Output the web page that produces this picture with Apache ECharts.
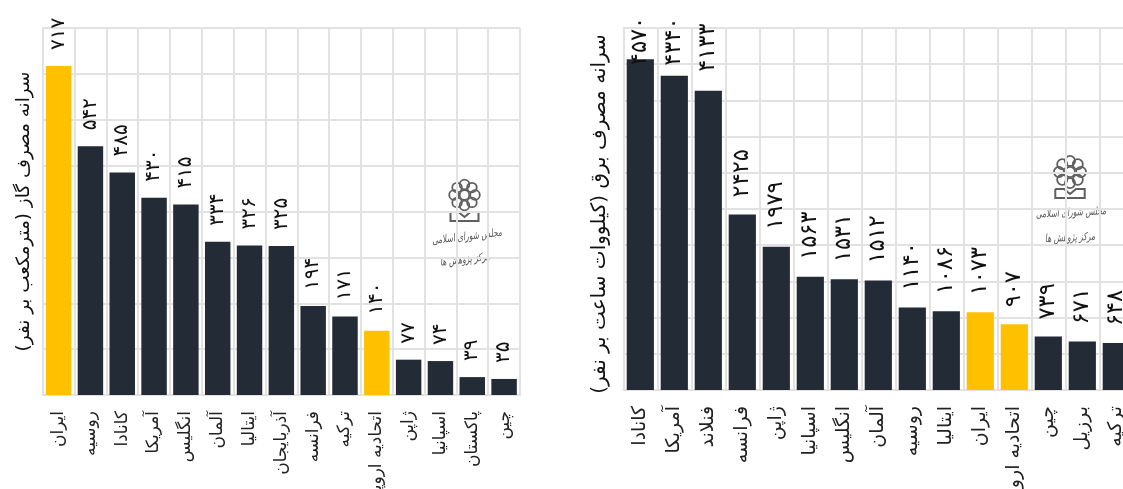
<!DOCTYPE html>
<html dir="rtl">
<head>
<meta charset="utf-8">
<style>html,body{margin:0;padding:0;background:#fff;overflow:hidden;width:1123px;height:489px}#c{width:1140px;height:489px;position:absolute;left:0;top:0}</style>
<script src="https://cdn.jsdelivr.net/npm/echarts@6/dist/echarts.min.js"></script>
</head>
<body>
<div id="c"></div>
<script>
const gasCategories = ['ایران','روسیه','کانادا','آمریکا','انگلیس','آلمان','ایتالیا','آذربایجان','فرانسه','ترکیه','اتحادیه اروپا','ژاپن','اسپانیا','پاکستان','چین'];
const gasValues = [717,542,485,430,415,334,326,325,194,171,140,77,74,39,35];
const gasHighlighted = ['ایران','اتحادیه اروپا'];
const gasTitle = 'سرانه مصرف گاز (مترمکعب بر نفر)';

const powerCategories = ['کانادا','آمریکا','فنلاند','فرانسه','ژاپن','اسپانیا','انگلیس','آلمان','روسیه','ایتالیا','ایران','اتحادیه اروپا','چین','برزیل','ترکیه'];
const powerValues = [4570,4340,4133,2425,1979,1563,1531,1512,1140,1086,1073,907,739,671,648];
const powerHighlighted = ['ایران','اتحادیه اروپا'];
const powerTitle = 'سرانه مصرف برق (کیلووات ساعت بر نفر)';

const logoLine1 = 'مجلس شورای اسلامی';
const logoLine2 = 'مرکز پژوهش ها';

const DARK='#232b36', GOLD='#ffc000', GRID='#e2e2e2', FONT='"DejaVu Sans"';
const fa = v => String(v).replace(/\d/g, d => '۰۱۲۳۴۵۶۷۸۹'[d]);

function xAxis(idx, cats, size){
  return {type:'category', gridIndex:idx, data:cats, boundaryGap:true,
    axisLine:{show:true,lineStyle:{color:GRID,width:2}}, axisTick:{show:false},
    splitLine:{show:true,lineStyle:{color:GRID,width:2}},
    axisLabel:{interval:0, rotate:90, margin:16, fontFamily:FONT, fontSize:size, color:'#222'}};
}
function yAxis(idx, max, step, name, gap, size, pad){
  return {type:'value', gridIndex:idx, min:0, max:max, interval:step,
    name:name, nameLocation:'middle', nameGap:gap, nameRotate:90,
    nameTextStyle:{fontFamily:FONT, fontSize:size, color:'#111', padding:pad},
    axisLine:{show:true,lineStyle:{color:GRID,width:2}}, axisTick:{show:false}, axisLabel:{show:false},
    splitLine:{show:true,lineStyle:{color:GRID,width:2}}};
}
function series(idx, cats, vals, hi, size, gap, nudges){
  return {type:'bar', xAxisIndex:idx, yAxisIndex:idx, barCategoryGap:'20%',
    data: vals.map((v,i)=>({value:v,
      itemStyle:{color: hi.includes(cats[i]) ? GOLD : DARK},
      label:{distance: nudges[i] !== undefined ? nudges[i] : gap}})),
    label:{show:true, position:'top', rotate:90, align:'left', verticalAlign:'middle',
      fontFamily:FONT, fontSize:size, color:'#111', formatter:p=>fa(p.value)}};
}
function logo(cx, cy, sx, t1x, t1y, t2x, t2y, tilt, size){
  const stroke='#5f5f5f', kids=[];
  const r=4.8*sx, R=10.5*sx;
  for(let a=0;a<8;a++){
    const an=a*Math.PI/4;
    kids.push({type:'circle',shape:{cx:cx+R*Math.cos(an),cy:cy+R*Math.sin(an),r:r},style:{fill:'none',stroke:stroke,lineWidth:1.8}});
  }
  kids.push({type:'circle',shape:{cx:cx,cy:cy,r:r},style:{fill:'none',stroke:stroke,lineWidth:1.8}});
  const w=14*sx, top=cy+17, bot=cy+26;
  kids.push({type:'polyline',shape:{points:[[cx-w,top],[cx-w,bot],[cx+w,bot],[cx+w,top],[cx+6,top],[cx,top+5],[cx-6,top],[cx-w,top]]},style:{fill:'none',stroke:stroke,lineWidth:2}});
  [[logoLine1,t1x,t1y],[logoLine2,t2x,t2y]].forEach(([s,x,y])=>{
    kids.push({type:'text',x:x,y:y,rotation:tilt,scaleX:0.68,style:{text:s,x:0,y:0,align:'center',verticalAlign:'middle',fill:'#555',font:'italic '+size+'px '+FONT}});
  });
  return {type:'group',silent:true,z:5,children:kids};
}

const chart = echarts.init(document.getElementById('c'),null,{renderer:'canvas'});
chart.setOption({
  backgroundColor:'#fff', animation:false,
  grid:[
    {left:42.7, top:28, width:477.3, height:367, outerBoundsMode:'none'},
    {left:623.3, top:28, width:510, height:362, outerBoundsMode:'none'}
  ],
  xAxis:[xAxis(0,gasCategories,17), xAxis(1,powerCategories,19)],
  yAxis:[yAxis(0,800,100,gasTitle,9,18.4,[0,0,0,0]), yAxis(1,5000,500,powerTitle,14,20,[0,10,0,0])],
  series:[
    series(0,gasCategories,gasValues,gasHighlighted,20,16,{}),
    series(1,powerCategories,powerValues,powerHighlighted,22.5,17,{0:-6,1:10,2:19})
  ],
  graphic:{elements:[
    logo(464.5,195,1,467,237,465,260,0.12,11),
    logo(1070,172,1.05,1071,213,1070,238,0.05,11)
  ]}
});
</script>
</body>
</html>
